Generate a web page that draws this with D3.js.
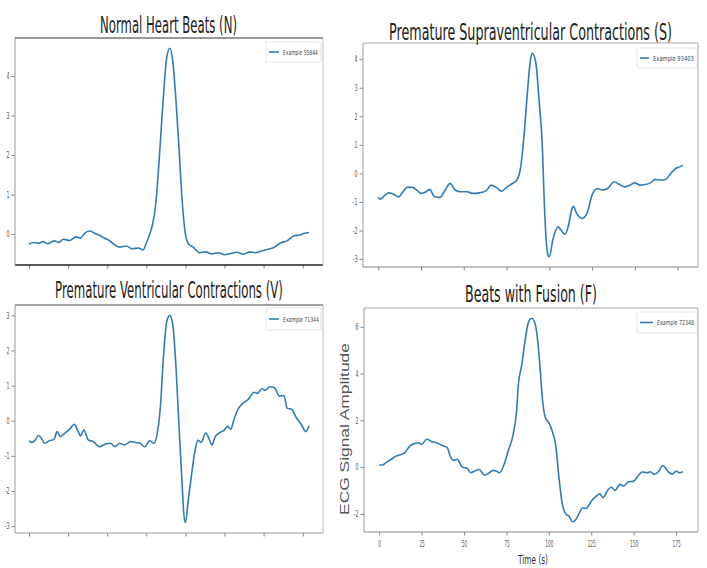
<!DOCTYPE html>
<html><head><meta charset="utf-8">
<script src="https://cdn.jsdelivr.net/npm/d3@7"></script>
<style>body{margin:0;background:#fff} svg{display:block}</style>
</head><body><svg id="c" width="707" height="568"></svg>
<script>
// ---------------- DATA ----------------
const titles = ["Normal Heart Beats (N)", "Premature Supraventricular Contractions (S)",
                "Premature Ventricular Contractions (V)", "Beats with Fusion (F)"];
const legendLabels = ["Example 55844", "Example 93403", "Example 71344", "Example 72348"];
const xTickValues = [0, 25, 50, 75, 100, 125, 150, 175];
const yTicksN = [0, 1, 2, 3, 4];
const yTicksS = [-3, -2, -1, 0, 1, 2, 3, 4];
const yTicksV = [-3, -2, -1, 0, 1, 2, 3];
const yTicksF = [-2, 0, 2, 4, 6];
const xLabel = "Time (s)";
const yLabel = "ECG Signal Amplitude";

const timeN = [0,3,6,9,12,16,19,22,26,30,33,36,39,42,45,48,51,54,58,62,66,70,73,75,77,79,81,83,85,87,88,90,92,94,96,98,100,102,105,109,113,117,121,125,129,133,137,141,145,149,153,157,161,165,169,173,176,179];
const valuesN = [-0.25,-0.21,-0.23,-0.19,-0.24,-0.17,-0.21,-0.13,-0.16,-0.07,-0.1,0.04,0.08,0.02,-0.03,-0.1,-0.15,-0.25,-0.33,-0.3,-0.37,-0.35,-0.4,-0.22,-0.02,0.25,0.75,1.75,2.95,4.05,4.45,4.7,4.35,3.35,2.1,0.8,0.0,-0.25,-0.33,-0.47,-0.45,-0.5,-0.47,-0.52,-0.49,-0.46,-0.51,-0.45,-0.47,-0.42,-0.38,-0.33,-0.22,-0.17,-0.05,-0.02,0.02,0.04];

const timeS = [0,1,4,6,9,12,14,17,20,23,25,28,30,33,36,39,42,45,48,52,55,59,63,66,69,72,75,78,81,83,85,87,89,90,92,94,96,97,99,100,102,105,107,109,111,113,114,116,119,122,125,128,131,134,138,141,144,147,150,153,156,159,162,165,168,171,174,176,178];
const valuesS = [-0.82,-0.9,-0.76,-0.68,-0.73,-0.82,-0.68,-0.49,-0.49,-0.61,-0.7,-0.64,-0.56,-0.82,-0.84,-0.6,-0.35,-0.58,-0.64,-0.64,-0.7,-0.68,-0.61,-0.41,-0.49,-0.62,-0.49,-0.37,-0.23,0.12,1.17,2.69,3.98,4.21,3.92,2.57,0.82,-0.94,-2.81,-2.92,-2.34,-1.87,-1.99,-2.13,-1.87,-1.29,-1.15,-1.4,-1.58,-1.4,-0.76,-0.53,-0.58,-0.53,-0.29,-0.39,-0.47,-0.41,-0.33,-0.41,-0.39,-0.33,-0.21,-0.23,-0.21,0.0,0.18,0.22,0.29];

const timeV = [0,2,4,6,8,10,13,16,18,20,23,26,29,31,33,35,38,41,45,49,52,55,58,61,65,68,71,74,77,80,82,84,86,88,90,92,94,96,98,99,100,102,104,106,108,110,113,115,117,119,122,125,127,129,131,134,137,140,144,146,149,151,154,157,160,163,165,168,171,174,177,179];
const valuesV = [-0.57,-0.62,-0.55,-0.42,-0.5,-0.64,-0.57,-0.53,-0.31,-0.45,-0.35,-0.24,-0.1,-0.26,-0.43,-0.26,-0.55,-0.59,-0.74,-0.66,-0.64,-0.74,-0.64,-0.69,-0.59,-0.62,-0.64,-0.74,-0.57,-0.64,-0.35,0.4,1.85,2.81,3.0,2.7,1.5,-0.25,-1.9,-2.66,-2.9,-2.18,-1.51,-0.88,-0.55,-0.62,-0.35,-0.5,-0.69,-0.45,-0.34,-0.26,-0.16,-0.24,0.03,0.36,0.51,0.6,0.81,0.78,0.91,0.87,0.97,0.94,0.7,0.72,0.36,0.32,0.08,-0.1,-0.31,-0.14];

const timeF = [0,2,4,7,10,13,15,18,21,23,25,28,31,34,36,38,40,42,44,46,49,52,54,57,59,62,65,67,69,71,74,76,79,81,82,84,86,88,90,92,93,95,96,98,100,102,104,106,108,110,112,114,116,118,120,122,125,128,130,132,135,137,139,142,144,147,150,153,155,158,160,162,165,167,169,171,173,175,177,179];
const valuesF = [0.09,0.09,0.19,0.33,0.47,0.54,0.61,0.9,1.01,1.04,0.97,1.19,1.09,1.04,0.97,0.9,0.85,0.45,0.29,0.33,0.0,-0.06,-0.24,-0.14,-0.1,-0.34,-0.24,-0.14,-0.17,-0.24,0.19,0.69,1.4,2.4,3.5,4.35,5.4,6.2,6.37,6.11,5.69,4.1,3.1,2.11,1.9,1.54,0.97,-0.46,-1.6,-2.0,-2.1,-2.34,-2.24,-1.96,-1.74,-1.77,-1.46,-1.24,-1.14,-1.31,-0.96,-0.86,-1.0,-0.74,-0.81,-0.63,-0.6,-0.34,-0.21,-0.24,-0.2,-0.31,-0.17,0.07,-0.06,-0.24,-0.29,-0.17,-0.24,-0.2];

// ---------------- LAYOUT ----------------
const LINE = "#2f7db5";
const panels = [
  {t: timeN, v: valuesN, yTicks: yTicksN, box: {l: 15, r: 323, t: 38, b: 265},
   title: {x: 168.5, y: 33, w: 137}, leg: {x: 266, y: 42, w: 55, h: 20, tx: 283, tw: 35},
   spines: {top: "#333", bottom: "#222", left: "#999", right: "#bbb"}, bw: 1.6, xLabels: false},
  {t: timeS, v: valuesS, yTicks: yTicksS, box: {l: 363, r: 698, t: 43, b: 267},
   title: {x: 530.5, y: 40, w: 283}, leg: {x: 637, y: 48, w: 60, h: 20, tx: 653, tw: 41},
   spines: {top: "#aaa", bottom: "#888", left: "#999", right: "#aaa"}, bw: 1, xLabels: false},
  {t: timeV, v: valuesV, yTicks: yTicksV, box: {l: 15, r: 323, t: 305, b: 533},
   title: {x: 169, y: 298, w: 228}, leg: {x: 266, y: 308, w: 55, h: 22, tx: 283, tw: 36},
   spines: {top: "#444", bottom: "#999", left: "#999", right: "#bbb"}, bw: 1, xLabels: false},
  {t: timeF, v: valuesF, yTicks: yTicksF, box: {l: 364, r: 698, t: 308, b: 532},
   title: {x: 531, y: 302, w: 132}, leg: {x: 637, y: 312, w: 60, h: 21, tx: 657, tw: 37},
   spines: {top: "#aaa", bottom: "#888", left: "#999", right: "#aaa"}, bw: 1, xLabels: true}
];

const svg = d3.select("#c");
svg.append("rect").attr("width", 707).attr("height", 568).attr("fill", "#fff");

function squeeze(sel, f) {
  sel.each(function () {
    const w = this.getComputedTextLength();
    if (w > 0) {
      this.setAttribute("textLength", (w * f).toFixed(2));
      this.setAttribute("lengthAdjust", "spacingAndGlyphs");
    }
  });
}
// place a text horizontally scaled so that its drawn width equals w
function placeText(parent, str, x, y, w, attrs, rotate) {
  const t = parent.append("text").attr("x", 0).attr("y", 0).text(str);
  Object.entries(attrs).forEach(([k, v]) => t.attr(k, v));
  const nat = t.node().getComputedTextLength();
  const f = w / nat;
  t.attr("transform", `translate(${x},${y})` + (rotate ? ` rotate(${rotate})` : "") + ` scale(${f.toFixed(4)},1)`);
  return t;
}

panels.forEach((p, i) => {
  const g = svg.append("g");
  const b = p.box;
  const xExt = d3.extent(p.t), xPad = (xExt[1] - xExt[0]) * 0.05;
  const yExt = d3.extent(p.v), yPad = (yExt[1] - yExt[0]) * 0.05;
  const x = d3.scaleLinear().domain([xExt[0] - xPad, xExt[1] + xPad]).range([b.l, b.r]);
  const y = d3.scaleLinear().domain([yExt[0] - yPad, yExt[1] + yPad]).range([b.b, b.t]);

  // axes
  const xa = g.append("g").attr("transform", `translate(0,${b.b})`)
    .call(d3.axisBottom(x).tickValues(xTickValues).tickSize(3.5).tickPadding(5).tickFormat(d3.format("d")));
  const ya = g.append("g").attr("transform", `translate(${b.l},0)`)
    .call(d3.axisLeft(y).tickValues(p.yTicks).tickSize(3.5).tickPadding(2).tickFormat(d3.format("d")));
  if (!p.xLabels) xa.selectAll(".tick text").remove();
  [xa, ya].forEach(a => {
    a.select(".domain").remove();
    a.selectAll(".tick line").attr("stroke", "#666").attr("stroke-width", 0.8);
    a.selectAll(".tick text").attr("fill", "#555").attr("font-family", "DejaVu Sans")
      .attr("font-size", 8.5);
  });
  ya.selectAll(".tick text").text(d => d < 0 ? "-" + Math.abs(d) : String(d));
  squeeze(xa.selectAll(".tick text"), 0.5);
  squeeze(ya.selectAll(".tick text"), 0.55);

  // frame
  const s = p.spines;
  g.append("line").attr("x1", b.l).attr("x2", b.r).attr("y1", b.t).attr("y2", b.t).attr("stroke", s.top).attr("stroke-width", 1.1);
  g.append("line").attr("x1", b.l).attr("x2", b.r).attr("y1", b.b).attr("y2", b.b).attr("stroke", s.bottom).attr("stroke-width", p.bw);
  g.append("line").attr("x1", b.l).attr("x2", b.l).attr("y1", b.t).attr("y2", b.b).attr("stroke", s.left).attr("stroke-width", 1);
  g.append("line").attr("x1", b.r).attr("x2", b.r).attr("y1", b.t).attr("y2", b.b).attr("stroke", s.right).attr("stroke-width", 1);

  // line
  const pts = p.t.map((t, k) => [t, p.v[k]]);
  g.append("path").datum(pts)
    .attr("fill", "none").attr("stroke", LINE).attr("stroke-width", 1.6)
    .attr("stroke-linejoin", "round")
    .attr("d", d3.line().x(d => x(d[0])).y(d => y(d[1])).curve(d3.curveMonotoneX));

  // title
  placeText(g, titles[i], p.title.x, p.title.y, p.title.w,
    {"text-anchor": "middle", "font-family": "DejaVu Sans", "font-size": 23, "fill": "#222"});

  // legend
  const L = p.leg;
  g.append("rect").attr("x", L.x).attr("y", L.y).attr("width", L.w).attr("height", L.h)
    .attr("rx", 2).attr("fill", "#fff").attr("stroke", "#ddd").attr("stroke-width", 0.8);
  g.append("line").attr("x1", L.x + 3).attr("x2", L.tx - 4)
    .attr("y1", L.y + L.h / 2).attr("y2", L.y + L.h / 2)
    .attr("stroke", LINE).attr("stroke-width", 1.6);
  placeText(g, legendLabels[i], L.tx, L.y + L.h / 2 + 2.5, L.tw,
    {"font-family": "DejaVu Sans", "font-size": 7, "fill": "#444"});
});

// shared axis labels
placeText(svg, xLabel, 533, 564, 30,
  {"text-anchor": "middle", "font-family": "DejaVu Sans", "font-size": 12, "fill": "#333"});
placeText(svg, yLabel, 349, 429, 172,
  {"text-anchor": "middle", "font-family": "Liberation Sans", "font-size": 12, "fill": "#555"}, -90);
</script></body></html>
